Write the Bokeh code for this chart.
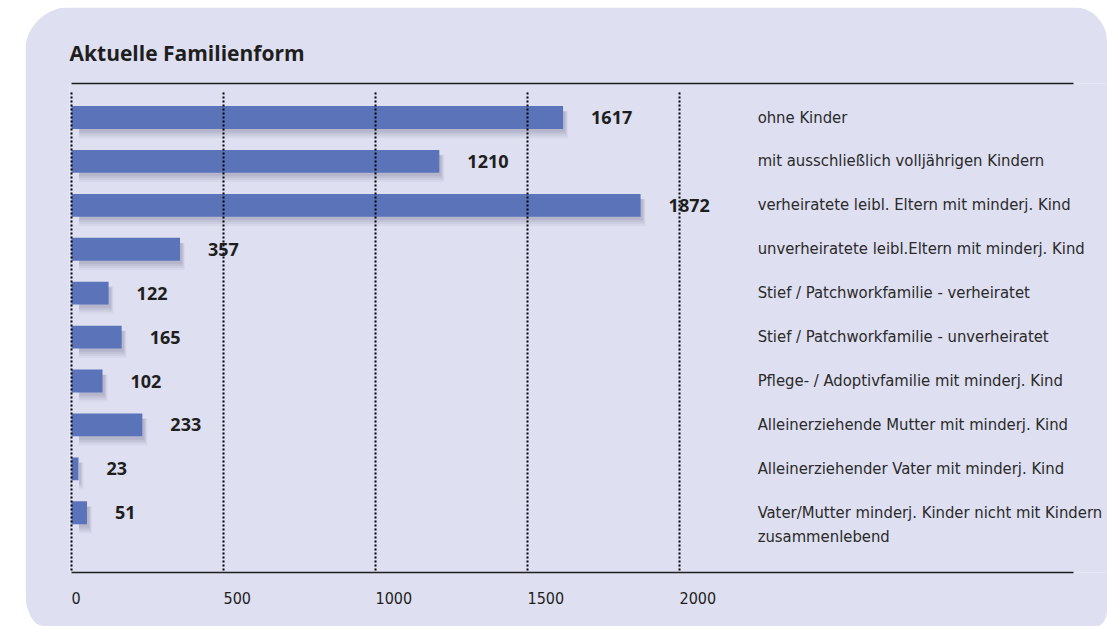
from bokeh.plotting import figure
from bokeh.models import Range1d, LinearAxis, FixedTicker, ColumnDataSource
from bokeh.core.properties import value
from bokeh.transform import dodge
from bokeh.embed import file_html
from bokeh.resources import INLINE

title_text = "Aktuelle Familienform"
categories = [
    "ohne Kinder",
    "mit ausschließlich volljährigen Kindern",
    "verheiratete leibl. Eltern mit minderj. Kind",
    "unverheiratete leibl.Eltern mit minderj. Kind",
    "Stief / Patchworkfamilie - verheiratet",
    "Stief / Patchworkfamilie - unverheiratet",
    "Pflege- / Adoptivfamilie mit minderj. Kind",
    "Alleinerziehende Mutter mit minderj. Kind",
    "Alleinerziehender Vater mit minderj. Kind",
    "Vater/Mutter minderj. Kinder nicht mit Kindern\nzusammenlebend",
]
values = [1617, 1210, 1872, 357, 122, 165, 102, 233, 23, 51]
x_ticks = [0, 500, 1000, 1500, 2000]

PANEL = "#dedff0"
BAR = "#5b73b8"
INK = "#1e1e1e"
NARROW_S = "'DejaVu Sans Condensed', 'DejaVu Sans', sans-serif"
BOLD_S = "Open Sans"
NARROW = value(NARROW_S)
BOLD = value(BOLD_S)

rows = list(range(len(categories)))
src = ColumnDataSource(dict(
    y=rows, v=values, lab=[str(v) for v in values], cat=categories,
    lx=[2257] * len(rows),
))

p = figure(width=1082, height=619, output_backend="svg", toolbar_location=None,
           x_axis_location=None, y_axis_location=None,
           x_range=Range1d(-6.6, 3407.9), y_range=Range1d(10.36, -0.775),
           min_border_left=44, min_border_right=0, min_border_top=76,
           min_border_bottom=54,
           background_fill_color=PANEL, border_fill_color=PANEL,
           outline_line_color=None)
p.grid.visible = False
p.styles = {"margin-left": "25px", "margin-top": "7px",
            "border-radius": "45px 34px 10px 18px / 45px 34px 16px 36px",
            "overflow": "hidden"}

p.title.text = title_text
p.title.align = "left"
p.title.text_font = BOLD_S
p.title.text_font_style = "bold"
p.title.text_font_size = "21px"
p.title.text_color = INK
p.title.standoff = 33

# top rule
top = LinearAxis(ticker=FixedTicker(ticks=[]), axis_line_color=INK,
                 axis_line_width=1.5, major_tick_in=0, major_tick_out=0,
                 minor_tick_in=0, minor_tick_out=0,
                 major_label_text_font_size="0px", bounds=(0, 3296))
p.add_layout(top, "above")

# tick labels sit to the right of their grid line, as in the original
pad = {t: "\u00a0" * (2 * len(str(t))) + str(t) for t in x_ticks}
bottom = LinearAxis(ticker=FixedTicker(ticks=x_ticks), axis_line_color=INK,
                    axis_line_width=1.5, major_tick_in=0, major_tick_out=0,
                    minor_tick_in=0, minor_tick_out=0,
                    major_label_text_font=NARROW_S,
                    major_label_text_font_size="16px",
                    major_label_text_color=INK,
                    major_label_overrides=pad,
                    major_label_standoff=16, bounds=(0, 3296))
p.add_layout(bottom, "below")

# soft shadows
for dy, h, ext, a in [(0.16, 0.62, 16, 0.07), (0.14, 0.57, 13, 0.09),
                      (0.12, 0.52, 10, 0.12), (0.10, 0.47, 7, 0.15)]:
    p.hbar(y=dodge("y", dy, range=p.y_range), left=25,
           right=dodge("v", ext, range=p.x_range),
           height=h, source=src, fill_color="#74748e", fill_alpha=a,
           line_color=None)

p.hbar(y="y", left=0, right="v", height=0.52, source=src,
       fill_color=BAR, line_color=None)

# dotted grid lines drawn over bars
p.segment(x0=x_ticks, y0=[-0.57] * len(x_ticks), x1=x_ticks,
          y1=[10.36] * len(x_ticks), line_color="black", line_width=2,
          line_dash="2 2")

p.text(x="v", y="y", text="lab", source=src, x_offset=28,
       text_font=BOLD, text_font_style="bold", text_font_size="18px",
       text_color=INK, text_baseline="middle", text_align="left")

p.text(x="lx", y="y", text="cat", source=src, y_offset=-10,
       text_font=NARROW, text_font_size="16.5px", text_color="#2a2a2a",
       text_baseline="top", text_align="left", text_line_height=1.25)

open("out.html", "w").write(file_html(p, INLINE))
